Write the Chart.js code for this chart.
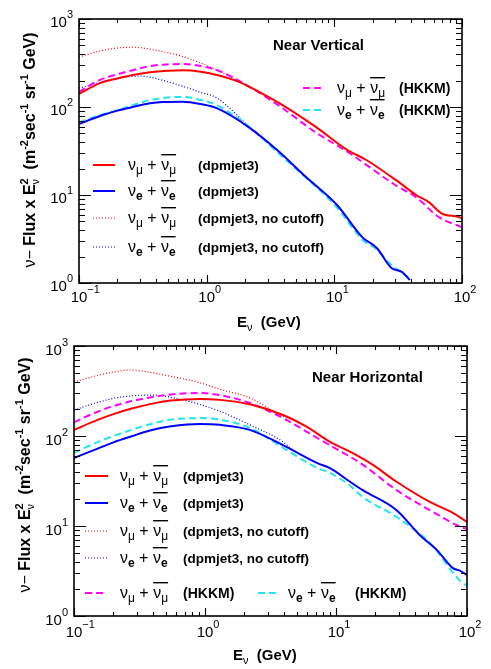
<!DOCTYPE html>
<html><head><meta charset="utf-8">
<script src="https://cdn.jsdelivr.net/npm/chart.js@4.4.1/dist/chart.umd.min.js"></script>
<style>
html,body{margin:0;padding:0;background:#fff;width:491px;height:669px;overflow:hidden}
.box{position:absolute;left:0;width:491px}
</style></head>
<body>
<div class="box" style="top:0;height:335px"><canvas id="c1"></canvas></div>
<div class="box" style="top:335px;height:334px"><canvas id="c2"></canvas></div>
<script>
// ---------- Near Vertical (top panel) ----------
const vMuE   = [0.1, 0.146, 0.2, 0.264, 0.36, 0.49, 0.65, 0.9, 1.2, 1.81, 2.17, 3.93, 7.2, 12.4, 17.8, 32, 43.7, 55, 69, 95, 100];
const vMuF   = [141, 187, 211, 231, 248, 258, 262, 252, 231, 192, 169, 105, 59, 33, 25, 14, 10, 8.3, 6.2, 5.6, 5.4];
const vMuHkE = [0.1, 0.146, 0.2, 0.264, 0.36, 0.49, 0.65, 0.9, 1.2, 2.17, 3.93, 7.2, 13.1, 30, 43.7, 66, 100];
const vMuHkF = [148, 203, 235, 262, 292, 305, 308, 292, 263, 169, 97, 51, 30, 13, 9.4, 5.6, 4.3];
const vMuNcE = [0.1, 0.146, 0.2, 0.264, 0.36, 0.49, 0.65, 0.88, 1.2, 1.6, 2.17, 3.93];
const vMuNcF = [370, 433, 468, 478, 455, 415, 375, 320, 263, 214, 169, 105];
const vEE    = [0.1, 0.146, 0.2, 0.264, 0.36, 0.45, 0.65, 0.9, 1.2, 2.17, 3.6, 6.0, 10.5, 16.6, 21.5, 28, 34, 39];
const vEF    = [64, 79, 91, 100, 110, 114, 115, 108, 97, 58, 32, 16, 7.7, 3.3, 2.5, 1.48, 1.33, 1.08];
const vEHkE  = [0.1, 0.146, 0.2, 0.264, 0.36, 0.49, 0.65, 0.9, 1.2, 2.17, 3.93, 7.2, 10.5, 16.6, 21.5, 28, 34, 38];
const vEHkF  = [67, 81, 92, 105, 120, 128, 130, 120, 105, 59, 27, 12.4, 7.2, 3.1, 2.4, 1.6, 1.3, 1.15];
const vENcE  = [0.1, 0.146, 0.2, 0.3, 0.36, 0.49, 0.65, 0.88, 1.2, 2.0, 2.6];
const vENcF  = [164, 190, 212, 225, 218, 195, 172, 148, 127, 66, 46];

// ---------- Near Horizontal (bottom panel) ----------
const hMuE   = [0.1, 0.15, 0.2, 0.28, 0.38, 0.55, 0.92, 1.3, 2.2, 3.94, 6.0, 9.0, 13, 19, 29, 52, 78, 100];
const hMuF   = [117, 150, 175, 203, 226, 248, 258, 252, 225, 171, 126, 86, 66, 48, 31, 18.5, 14, 11.1];
const hMuHkE = [0.1, 0.15, 0.2, 0.28, 0.38, 0.55, 0.92, 1.3, 2.2, 3.94, 7.2, 9.0, 16, 29, 52, 89, 100];
const hMuHkF = [142, 185, 215, 245, 268, 290, 300, 285, 233, 158, 95, 79, 48, 25, 15, 9.8, 9.3];
const hMuNcE = [0.1, 0.15, 0.2, 0.27, 0.38, 0.55, 0.92, 1.3, 2.2, 3.94, 4.5];
const hMuNcF = [398, 470, 515, 541, 510, 460, 390, 330, 265, 165, 155];
const hEE    = [0.1, 0.15, 0.2, 0.28, 0.38, 0.55, 0.92, 1.3, 2.2, 3.94, 7.2, 9.0, 12.8, 16, 29, 43.7, 59, 78, 88, 100];
const hEF    = [57, 72, 85, 100, 115, 128, 136, 133, 117, 79, 50, 44, 31, 25, 15, 7.9, 5.4, 3.4, 3.2, 2.85];
const hEHkE  = [0.1, 0.15, 0.2, 0.28, 0.38, 0.55, 0.92, 1.3, 2.2, 3.94, 7.2, 9.0, 12.8, 16, 29, 52, 93, 100];
const hEHkF  = [65, 85, 100, 118, 135, 152, 158, 152, 123, 74, 44, 39, 28, 21, 12.6, 6.5, 2.3, 2.2];
const hENcE  = [0.1, 0.15, 0.2, 0.28, 0.4, 0.68, 1.23, 2.2, 3.94, 4.7];
const hENcF  = [194, 235, 262, 280, 285, 251, 194, 133, 86, 69];

// axis tick decades
const xDecades = [-1, 0, 1, 2];
const yDecades = [0, 1, 2, 3];

const FONT = '"Liberation Sans", Arial, Helvetica, sans-serif';
const RED = '#ff0000', BLUE = '#0000ff', MAG = '#ff00ff', CYAN = '#22e6ee';
const f = (size, bold) => (bold ? 'bold ' : '') + size + 'px ' + FONT;

function pts(E, F) { return E.map((e, i) => ({ x: e, y: F[i] })); }
function ds(E, F, color, kind, order) {
  const d = { data: pts(E, F), borderColor: color, fill: false, cubicInterpolationMode: 'monotone', order };
  if (kind === 'solid') { d.borderWidth = 2; }
  if (kind === 'dash') { d.borderWidth = 2; d.borderDash = [7, 4]; }
  if (kind === 'dot') { d.borderWidth = 1.2; d.borderDash = [1, 2]; }
  return d;
}

function segW(ctx, s) {
  if (s.sup !== undefined) {
    ctx.font = f(s.size, s.bold); let w = ctx.measureText(s.sup).width;
    if (s.sub) { ctx.font = f(s.subSize, false); w = Math.max(w, ctx.measureText(s.sub).width); }
    return w;
  }
  ctx.font = f(s.size, s.bold); return ctx.measureText(s.t).width;
}
function drawRich(ctx, segs, x, y, align) {
  const w = segs.reduce((a, s) => a + segW(ctx, s), 0);
  let cx = align === 'center' ? x - w / 2 : align === 'right' ? x - w : x;
  ctx.textAlign = 'left'; ctx.textBaseline = 'alphabetic';
  for (const s of segs) {
    const sw = segW(ctx, s);
    if (s.sup !== undefined) {
      ctx.font = f(s.size, s.bold); ctx.fillText(s.sup, cx, y + s.supDy);
      if (s.sub) { ctx.font = f(s.subSize, false); ctx.fillText(s.sub, cx, y + s.subDy); }
    } else {
      ctx.font = f(s.size, s.bold); ctx.fillText(s.t, cx, y + (s.dy || 0));
    }
    cx += sw;
  }
  return w;
}

function nuPair(ctx, x, y, flav) {
  const subT = flav === 'e' ? 'e' : 'μ';
  const big = f(16, false), sub = f(12, flav === 'e');
  ctx.textAlign = 'left'; ctx.textBaseline = 'alphabetic';
  ctx.font = big; ctx.fillText('ν', x, y); let cx = x + ctx.measureText('ν').width;
  ctx.font = sub; ctx.fillText(subT, cx, y + 4); cx += ctx.measureText(subT).width;
  ctx.font = big; ctx.fillText(' + ', cx, y); cx += ctx.measureText(' + ').width;
  const bx = cx;
  ctx.fillText('ν', cx, y); cx += ctx.measureText('ν').width;
  ctx.font = sub; ctx.fillText(subT, cx, y + 4); cx += ctx.measureText(subT).width;
  ctx.fillRect(bx, y - 16, cx - bx, 1.4);
}

function legendEntry(ctx, e) {
  ctx.save();
  ctx.strokeStyle = e.color; ctx.lineWidth = e.kind === 'dot' ? 1.2 : 2;
  ctx.setLineDash(e.kind === 'dash' ? [7, 4] : e.kind === 'dot' ? [1, 2] : []);
  ctx.beginPath(); ctx.moveTo(e.x1, e.y); ctx.lineTo(e.x2, e.y); ctx.stroke();
  ctx.restore();
  ctx.fillStyle = '#000';
  nuPair(ctx, e.tx, e.y + 5, e.flav);
  ctx.font = f(e.dsize, true); ctx.textAlign = 'left'; ctx.textBaseline = 'alphabetic';
  ctx.fillText(e.desc, e.dx, e.y + 5);
}

function yTitle(size) {
  const s = size, ss = Math.round(size * 0.7);
  return [
    { t: 'ν', size: s, bold: false }, { t: '− ', size: s, bold: false },
    { t: 'Flux x E', size: s, bold: true },
    { sup: '2', size: ss, bold: true, supDy: -7, sub: 'ν', subSize: ss, subDy: 4 },
    { t: '  (m', size: s, bold: true }, { t: '-2', size: ss, bold: true, dy: -7 },
    { t: 'sec', size: s, bold: true }, { t: '-1', size: ss, bold: true, dy: -7 },
    { t: ' sr', size: s, bold: true }, { t: '-1', size: ss, bold: true, dy: -7 },
    { t: ' GeV)', size: s, bold: true }
  ];
}

function decorate(chart, P) {
  const { ctx, chartArea: a, scales: { x, y } } = chart;
  ctx.save();
  ctx.fillStyle = '#000'; ctx.strokeStyle = '#000';
  // frame
  ctx.lineWidth = 1.6;
  ctx.strokeRect(a.left, a.top, a.right - a.left, a.bottom - a.top);
  // ticks
  ctx.lineWidth = 1.1;
  ctx.beginPath();
  for (const d of yDecades) for (let m = 1; m <= 9; m++) {
    const v = m * Math.pow(10, d); if (v > 1000) continue;
    const py = Math.round(y.getPixelForValue(v)) + 0.5; const len = m === 1 ? 12 : 6;
    ctx.moveTo(a.left, py); ctx.lineTo(a.left + len, py);
    ctx.moveTo(a.right, py); ctx.lineTo(a.right - len, py);
  }
  for (const d of xDecades) for (let m = 1; m <= 9; m++) {
    const v = m * Math.pow(10, d); if (v > 100) continue;
    const px = Math.round(x.getPixelForValue(v)) + 0.5; const len = m === 1 ? 8 : 4;
    ctx.moveTo(px, a.bottom); ctx.lineTo(px, a.bottom - len);
    ctx.moveTo(px, a.top); ctx.lineTo(px, a.top + len);
  }
  ctx.stroke();
  // tick labels
  ctx.textBaseline = 'alphabetic';
  for (const d of yDecades) {
    const py = y.getPixelForValue(Math.pow(10, d));
    drawRich(ctx, [{ t: '10', size: 15 }, { t: String(d), size: 11, dy: -9 }], a.left - 6, py + P.yLabDy, 'right');
  }
  for (const d of xDecades) {
    const px = x.getPixelForValue(Math.pow(10, d));
    ctx.font = f(15, false); const w10 = ctx.measureText('10').width;
    drawRich(ctx, [{ t: '10', size: 15 }, { t: d < 0 ? '−' + (-d) : String(d), size: 11, dy: -9 }], px - w10 / 2, a.bottom + P.xLabDy, 'left');
  }
  // axis titles
  drawRich(ctx, [{ t: 'E', size: 15, bold: true }, { t: 'ν', size: 11, bold: false, dy: 4 }, { t: '  (GeV)', size: 15, bold: true }], P.xTitleX, P.xTitleY, 'left');
  ctx.save();
  ctx.translate(P.yTitleX, P.yTitleY); ctx.rotate(-Math.PI / 2);
  drawRich(ctx, yTitle(P.yTitleSize), 0, 0, 'center');
  ctx.restore();
  // panel label
  ctx.font = f(15, true); ctx.textAlign = 'left';
  ctx.fillText(P.label, P.labelX, P.labelY);
  // legend
  for (const e of P.legend) legendEntry(ctx, e);
  ctx.restore();
}

function makeChart(id, datasets, pad, P) {
  return new Chart(document.getElementById(id), {
    type: 'line',
    data: { datasets },
    options: {
      responsive: true, maintainAspectRatio: false, animation: false,
      layout: { padding: pad },
      plugins: { legend: { display: false }, tooltip: { enabled: false } },
      elements: { point: { radius: 0 }, line: { tension: 0.4 } },
      scales: {
        x: { type: 'logarithmic', min: 0.1, max: 100, display: false },
        y: { type: 'logarithmic', min: 1, max: 1000, display: false }
      }
    },
    plugins: [{ id: 'deco', afterDraw: c => decorate(c, P) }]
  });
}

// top panel
makeChart('c1', [
  ds(vMuE, vMuF, RED, 'solid', 1), ds(vEE, vEF, BLUE, 'solid', 2),
  ds(vMuHkE, vMuHkF, MAG, 'dash', 3), ds(vEHkE, vEHkF, CYAN, 'dash', 4),
  ds(vMuNcE, vMuNcF, RED, 'dot', 5), ds(vENcE, vENcF, BLUE, 'dot', 6)
], { left: 79, top: 19, right: 29, bottom: 52 }, {
  yLabDy: 8, xLabDy: 19, xTitleX: 237, xTitleY: 327, yTitleX: 35, yTitleY: 150, yTitleSize: 16,
  label: 'Near Vertical', labelX: 273, labelY: 50,
  legend: [
    { x1: 93, x2: 115, y: 165, color: RED, kind: 'solid', tx: 128, flav: 'mu', dx: 198, desc: '(dpmjet3)', dsize: 13.5 },
    { x1: 93, x2: 115, y: 191, color: BLUE, kind: 'solid', tx: 128, flav: 'e', dx: 198, desc: '(dpmjet3)', dsize: 13.5 },
    { x1: 93, x2: 115, y: 218, color: RED, kind: 'dot', tx: 128, flav: 'mu', dx: 198, desc: '(dpmjet3, no cutoff)', dsize: 13.5 },
    { x1: 93, x2: 115, y: 247, color: BLUE, kind: 'dot', tx: 128, flav: 'e', dx: 198, desc: '(dpmjet3, no cutoff)', dsize: 13.5 },
    { x1: 303, x2: 322, y: 88, color: MAG, kind: 'dash', tx: 337, flav: 'mu', dx: 399, desc: '(HKKM)', dsize: 14 },
    { x1: 303, x2: 322, y: 110, color: CYAN, kind: 'dash', tx: 337, flav: 'e', dx: 399, desc: '(HKKM)', dsize: 14 }
  ]
});

// bottom panel
makeChart('c2', [
  ds(hMuE, hMuF, RED, 'solid', 1), ds(hEE, hEF, BLUE, 'solid', 2),
  ds(hMuHkE, hMuHkF, MAG, 'dash', 3), ds(hEHkE, hEHkF, CYAN, 'dash', 4),
  ds(hMuNcE, hMuNcF, RED, 'dot', 5), ds(hENcE, hENcF, BLUE, 'dot', 6)
], { left: 74, top: 11, right: 24, bottom: 53 }, {
  yLabDy: 9, xLabDy: 21, xTitleX: 233, xTitleY: 325, yTitleX: 30, yTitleY: 140, yTitleSize: 16,
  label: 'Near Horizontal', labelX: 312, labelY: 47,
  legend: [
    { x1: 85, x2: 108, y: 141, color: RED, kind: 'solid', tx: 120, flav: 'mu', dx: 183, desc: '(dpmjet3)', dsize: 13.5 },
    { x1: 85, x2: 108, y: 168, color: BLUE, kind: 'solid', tx: 120, flav: 'e', dx: 183, desc: '(dpmjet3)', dsize: 13.5 },
    { x1: 85, x2: 108, y: 196, color: RED, kind: 'dot', tx: 120, flav: 'mu', dx: 183, desc: '(dpmjet3, no cutoff)', dsize: 13.5 },
    { x1: 85, x2: 108, y: 223, color: BLUE, kind: 'dot', tx: 120, flav: 'e', dx: 183, desc: '(dpmjet3, no cutoff)', dsize: 13.5 },
    { x1: 85, x2: 105, y: 258, color: MAG, kind: 'dash', tx: 120, flav: 'mu', dx: 183, desc: '(HKKM)', dsize: 14 },
    { x1: 258, x2: 276, y: 258, color: CYAN, kind: 'dash', tx: 288, flav: 'e', dx: 355, desc: '(HKKM)', dsize: 14 }
  ]
});
</script>
</body></html>
